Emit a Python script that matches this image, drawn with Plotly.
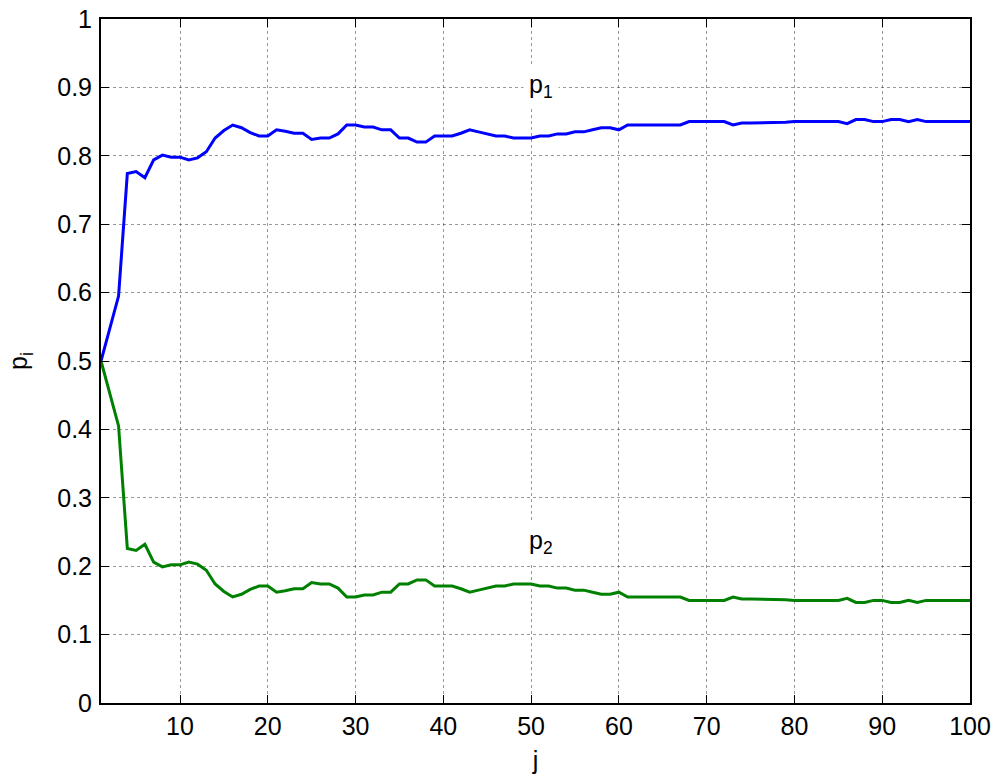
import plotly.graph_objects as go

# iteration index
j = list(range(1, 101))

# probability of the first choice over iterations
p1 = [0.500, 0.548, 0.595, 0.774, 0.777, 0.768, 0.794, 0.801, 0.798, 0.798,
      0.794, 0.797, 0.806, 0.826, 0.837, 0.845, 0.841, 0.834, 0.829, 0.829,
      0.838, 0.836, 0.833, 0.833, 0.824, 0.826, 0.826, 0.832, 0.845, 0.845,
      0.842, 0.842, 0.838, 0.838, 0.826, 0.826, 0.820, 0.820, 0.829, 0.829,
      0.829, 0.833, 0.838, 0.835, 0.832, 0.829, 0.829, 0.826, 0.826, 0.826,
      0.829, 0.829, 0.832, 0.832, 0.835, 0.835, 0.838, 0.841, 0.841, 0.838,
      0.845, 0.845, 0.845, 0.845, 0.845, 0.845, 0.845, 0.850, 0.850, 0.850,
      0.850, 0.850, 0.845, 0.848, 0.848, 0.848, 0.848, 0.848, 0.849, 0.850,
      0.850, 0.850, 0.850, 0.850, 0.850, 0.847, 0.853, 0.853, 0.850, 0.850,
      0.853, 0.853, 0.850, 0.853, 0.850, 0.850, 0.850, 0.850, 0.850, 0.850]

# probability of the second choice over iterations
p2 = [0.500, 0.452, 0.405, 0.226, 0.223, 0.232, 0.206, 0.199, 0.202, 0.202,
      0.206, 0.203, 0.194, 0.174, 0.163, 0.155, 0.159, 0.166, 0.171, 0.171,
      0.162, 0.164, 0.167, 0.167, 0.176, 0.174, 0.174, 0.168, 0.155, 0.155,
      0.158, 0.158, 0.162, 0.162, 0.174, 0.174, 0.180, 0.180, 0.171, 0.171,
      0.171, 0.167, 0.162, 0.165, 0.168, 0.171, 0.171, 0.174, 0.174, 0.174,
      0.171, 0.171, 0.168, 0.168, 0.165, 0.165, 0.162, 0.159, 0.159, 0.162,
      0.155, 0.155, 0.155, 0.155, 0.155, 0.155, 0.155, 0.150, 0.150, 0.150,
      0.150, 0.150, 0.155, 0.152, 0.152, 0.152, 0.152, 0.152, 0.151, 0.150,
      0.150, 0.150, 0.150, 0.150, 0.150, 0.153, 0.147, 0.147, 0.150, 0.150,
      0.147, 0.147, 0.150, 0.147, 0.150, 0.150, 0.150, 0.150, 0.150, 0.150]

x_ticks = [10, 20, 30, 40, 50, 60, 70, 80, 90, 100]
y_ticks = [0, 0.1, 0.2, 0.3, 0.4, 0.5, 0.6, 0.7, 0.8, 0.9, 1]
y_tick_text = ["0", "0.1", "0.2", "0.3", "0.4", "0.5", "0.6", "0.7", "0.8", "0.9", "1"]

FONT = "Liberation Sans, Arial, Helvetica, sans-serif"

fig = go.Figure()
fig.add_trace(go.Scatter(x=j, y=p1, mode="lines",
                         line=dict(color="#0000ff", width=3), showlegend=False))
fig.add_trace(go.Scatter(x=j, y=p2, mode="lines",
                         line=dict(color="#008000", width=3), showlegend=False))

# curve labels with white backing
for lbl, yv in [("p<sub>1</sub>", 0.902), ("p<sub>2</sub>", 0.235)]:
    fig.add_annotation(x=50, y=yv, text=lbl, showarrow=False, xanchor="left",
                       yanchor="middle", bgcolor="white", borderpad=5, xshift=-8,
                       font=dict(family=FONT, size=25, color="black"))

axis_common = dict(
    showline=True, linecolor="black", linewidth=2, mirror="ticks",
    ticks="inside", ticklen=8, tickwidth=1, tickcolor="black",
    showgrid=True, gridcolor="rgba(0,0,0,0.4)", gridwidth=1, griddash="dot",
    zeroline=False, automargin=False,
    tickfont=dict(family=FONT, size=25, color="black"),
)

fig.update_xaxes(range=[1, 100], tickvals=x_ticks, ticklabelstandoff=0,
                 title=dict(text="j", font=dict(family=FONT, size=25, color="black"),
                            standoff=12),
                 **axis_common)
fig.update_yaxes(range=[0, 1], tickvals=y_ticks, ticktext=y_tick_text,
                 ticklabelstandoff=2,
                 title=dict(text="p<sub>i</sub>", font=dict(family=FONT, size=25, color="black"),
                            standoff=22),
                 **axis_common)

fig.update_layout(
    width=995, height=776,
    margin=dict(l=101, r=25, t=19, b=73),
    paper_bgcolor="white", plot_bgcolor="white",
    font=dict(family=FONT, color="black"),
)

fig.write_html("out.html")
